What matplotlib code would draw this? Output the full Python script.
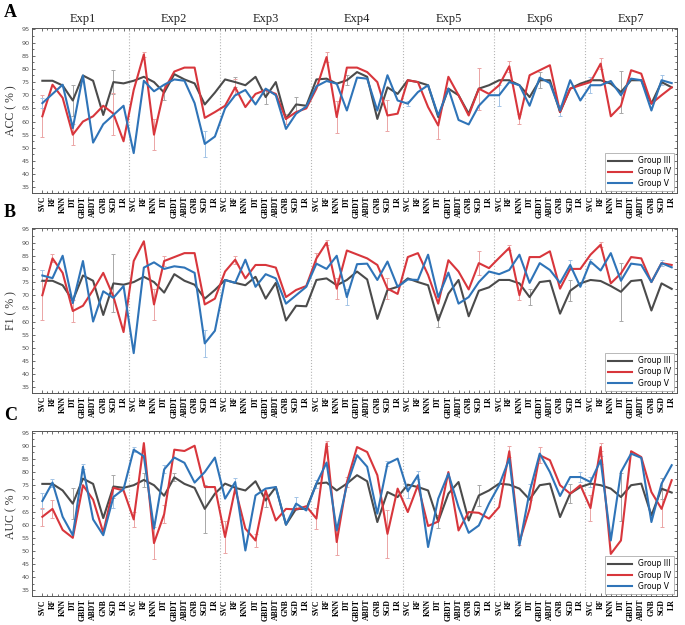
import numpy as np
import matplotlib.pyplot as plt
from matplotlib.ticker import MultipleLocator

classifiers = ["SVC", "RF", "KNN", "DT", "GBDT", "ABDT", "GNB", "SGD", "LR"]
experiments = ["Exp1", "Exp2", "Exp3", "Exp4", "Exp5", "Exp6", "Exp7"]
groups = ["Group III", "Group IV", "Group V"]
colors = ["#4b4b4b", "#d8363c", "#2f74b8"]
err_colors = ["#a8a8a8", "#eba5a5", "#a3c4e6"]

# ACC (%), 9 classifiers x 7 experiments
acc_g3 = [75.5, 75.5, 73.7, 68, 77.5, 75.5, 62.5, 75, 74.5,
          75.5, 77, 75, 71, 78, 76, 74.5, 66.5, 71,
          76, 75, 73.8, 77, 69.3, 75, 61, 66.5, 66,
          76, 76.3, 74.4, 75.7, 78.8, 77, 61, 73, 70.5,
          75.7, 75, 73.8, 61.7, 72.5, 70, 63, 72.5, 73.8,
          75.7, 75.7, 73.8, 69.3, 75.7, 75.7, 63.6, 72.5, 74.4,
          75.7, 75.7, 74.4, 71.2, 75.7, 75.7, 66.8, 75, 73]
acc_g4 = [62, 74, 69, 55, 60, 62, 66, 63, 52.5,
          72, 85.5, 55, 72, 79, 80.5, 80.5, 61.4, 63.6,
          66, 73, 65.5, 70.5, 72, 70.5, 61, 63.6, 65,
          72.5, 84.5, 61.7, 80.5, 80.5, 78.8, 75, 62.3, 63,
          75.7, 75, 65.5, 58.5, 77, 70, 62.3, 72.5, 70.5,
          73.8, 81, 61, 77.6, 79.5, 81.4, 63.6, 72.5, 73.8,
          75, 82, 62, 66, 79.5, 78.2, 66.8, 70, 73]
acc_g5 = [67, 70.5, 74, 57.5, 77.5, 52, 59, 62.5, 66,
          48, 75.5, 71.5, 74, 76, 75.5, 67, 51.5, 54.3,
          65, 70, 72, 66.5, 72.5, 70, 57.2, 63, 65.7,
          73.4, 75.4, 74.4, 64.2, 76.7, 76.3, 64.2, 77.6, 68,
          66.8, 71.2, 73.8, 62.3, 72.5, 60.6, 58.9, 66, 70,
          70, 75, 73.8, 66, 76.7, 74.6, 64.2, 75.7, 68,
          73.8, 73.8, 75.4, 70, 76.3, 75.7, 64.2, 75.7, 74.6]

# F1 (%)
f1_g3 = [75.5, 75.5, 73.8, 68, 77.5, 75.5, 62.5, 74.5, 74,
         75, 77, 75, 71, 78, 75.5, 74, 68.7, 72,
         75.8, 74.7, 73.8, 77, 68.7, 74.7, 60.4, 66, 65.8,
         75.8, 76.4, 73.8, 75.8, 79, 76, 61, 72, 73.2,
         76.4, 75, 73.8, 60.4, 70.6, 75.8, 62, 71.7, 73,
         75.8, 75.8, 74.5, 69.3, 75, 75.5, 63, 71.7, 74.5,
         75.8, 75.4, 73.5, 71.3, 75.4, 75.8, 64.2, 74.5, 72.4]
f1_g4 = [70, 84, 78.5, 64, 66, 72, 78.5, 69.5, 56,
         83, 90.5, 66.5, 83, 84.5, 86, 86, 66.5, 68.7,
         79, 83.5, 76.4, 81.5, 81.5, 80.5, 69.3, 72, 73.5,
         84, 90, 72.5, 87, 85.5, 84, 81.5, 72.5, 70.5,
         84.5, 86, 77.7, 66.8, 83.3, 79, 72.2, 82.2, 80.3,
         84.2, 88, 70, 84.5, 84.5, 86.7, 72.5, 80, 80,
         85.4, 89.2, 74.5, 78.3, 84.5, 84, 75, 82.2, 81.5]
f1_g5 = [77.5, 76.5, 85, 67, 83, 60, 71.5, 69, 73.5,
         48, 80.5, 82.5, 80, 81, 80.5, 78.5, 51.7, 56.5,
         75.8, 74.7, 83.5, 73.2, 78, 76.4, 66.8, 70, 73.2,
         82, 80, 85, 69.3, 81.8, 82, 75.8, 82.8, 73.2,
         76, 75.8, 85.4, 69.3, 78.6, 66.8, 69.3, 75, 79,
         78, 79.6, 85.4, 74.7, 82.2, 79.6, 74.7, 81.5, 73.2,
         82.8, 79.4, 86, 75.5, 82, 81.5, 75, 82.2, 80.6]

# AUC (%)
auc_g3 = [75.5, 75.5, 73, 68, 77.5, 75.5, 62.5, 74.5, 74,
          75, 77, 75, 71, 78, 75.5, 74, 66, 71.8,
          75.6, 74, 73, 76.5, 69.2, 74.3, 60, 66, 66,
          75.6, 76, 73, 75.6, 78.8, 76.5, 61, 72.4, 70.5,
          75.2, 74.3, 73, 61.2, 71.8, 76.2, 61.6, 71.1, 73,
          75.6, 75.2, 73.7, 69.6, 75, 75.6, 62.9, 71.8, 74.3,
          75.6, 75, 73.7, 70.5, 75, 75.6, 63.5, 73.7, 72.2]
auc_g4 = [63, 66, 58, 55, 75, 69.5, 57, 74, 73,
          62, 91, 53, 64, 88.5, 88, 90, 74.3, 74.3,
          55.3, 73.7, 58.5, 54, 73, 61.6, 66, 65.8, 67,
          62.3, 90.8, 53.4, 76.2, 89.5, 87.6, 78.8, 56.5, 73.7,
          64.8, 75, 59.5, 61.2, 80, 57.8, 64.8, 64.5, 62.3,
          66.7, 87.9, 53.4, 66, 86.4, 84.5, 75, 71.8, 75,
          66.3, 89.5, 48.9, 54, 87.9, 85.7, 72.4, 66, 76.9]
auc_g5 = [69, 76, 63, 56, 82, 62, 56, 70.5, 73.5,
          88.5, 86, 58.5, 81, 85.5, 83.5, 76, 80, 85.5,
          69.9, 76.2, 50.2, 71.1, 73.7, 74.3, 60, 68, 65.4,
          75.6, 83.6, 57.8, 75, 86.4, 82, 64.2, 83.2, 85.1,
          72.7, 78.8, 51.5, 69.9, 79.4, 66.7, 56.9, 59.7, 68,
          75, 85.1, 52.1, 72.5, 87, 80, 70.9, 78.1, 78.1,
          76.2, 84.5, 54, 80, 87, 85.4, 61, 75.6, 82.6]

# error bars: (group index, point index, half-width)
acc_err = [(1, 0, 8), (2, 0, 2), (0, 3, 6), (1, 3, 4), (0, 7, 4.5), (1, 7, 8),
           (1, 10, 1), (1, 11, 6), (0, 12, 3), (2, 16, 5), (0, 19, 2), (1, 19, 3),
           (0, 22, 2.5), (1, 24, 2), (0, 25, 3), (1, 28, 2), (1, 29, 6), (0, 30, 2),
           (1, 34, 6), (2, 36, 1), (1, 39, 5), (1, 43, 8), (2, 45, 4), (1, 46, 2),
           (1, 47, 2), (0, 49, 3), (2, 51, 2), (2, 54, 3), (1, 55, 2), (0, 57, 8),
           (2, 61, 2)]
f1_err = [(1, 0, 9.5), (2, 0, 2), (1, 1, 1.5), (1, 3, 4), (0, 7, 11), (1, 11, 6),
          (1, 12, 2), (2, 16, 5), (1, 19, 1.5), (1, 27, 2), (1, 28, 1), (1, 29, 4),
          (2, 30, 3), (1, 34, 4), (0, 39, 2.5), (1, 43, 4.5), (1, 46, 1), (1, 47, 2),
          (0, 48, 3), (2, 52, 2), (0, 52, 4), (2, 54, 1), (1, 55, 1), (0, 57, 11),
          (2, 61, 1)]
auc_err = [(2, 0, 3), (1, 0, 3.5), (1, 1, 3.5), (2, 1, 1.5), (0, 3, 6), (2, 4, 1),
           (0, 7, 4.5), (2, 7, 4), (2, 9, 1), (1, 9, 3), (0, 10, 2.5), (1, 11, 6),
           (1, 12, 3.5), (2, 12, 1.5), (0, 13, 1.5), (0, 16, 9), (1, 18, 6), (2, 19, 1.5),
           (1, 21, 2.5), (0, 22, 2.5), (2, 25, 2.5), (1, 27, 4), (2, 27, 1.5), (1, 28, 1),
           (1, 29, 5), (1, 30, 2), (1, 34, 9), (2, 34, 1), (2, 36, 2.5), (2, 37, 1.5),
           (0, 39, 2.5), (0, 43, 4), (1, 46, 2), (1, 47, 1), (2, 48, 3), (1, 49, 3),
           (0, 52, 3.5), (2, 53, 2), (1, 54, 5), (2, 54, 2), (1, 55, 1.5), (2, 55, 1.5),
           (0, 57, 9), (1, 61, 7), (0, 61, 4)]

panels = [
    ("A", "ACC ( % )", [acc_g3, acc_g4, acc_g5], acc_err),
    ("B", "F1 ( % )", [f1_g3, f1_g4, f1_g5], f1_err),
    ("C", "AUC ( % )", [auc_g3, auc_g4, auc_g5], auc_err),
]

n_cls = len(classifiers)
n_exp = len(experiments)
x = np.arange(n_cls * n_exp)
xlabels = classifiers * n_exp

fig = plt.figure(figsize=(6.85, 6.25), dpi=100)
serif = ["Liberation Serif", "DejaVu Serif"]

# panel boxes in figure fractions: (bottom, top)
boxes = [(0.691, 0.955), (0.371, 0.635), (0.046, 0.310)]

for (letter, ylabel, series, errs), (b, t) in zip(panels, boxes):
    ax = fig.add_axes([0.047, b, 0.941, t - b])

    for k in range(1, n_exp):
        ax.axvline(k * n_cls - 0.5, color="#b5b5b5", linestyle=":", linewidth=0.8, zorder=0)

    for g, i, e in errs:
        ax.errorbar(x[i], series[g][i], yerr=e, fmt="none", ecolor=err_colors[g],
                    elinewidth=0.7, capsize=1.6, capthick=0.7, zorder=1)

    for g, vals in enumerate(series):
        ax.plot(x, vals, color=colors[g], linewidth=1.5, label=groups[g], zorder=2 + g)

    ax.set_xlim(-1, len(x) - 0.95)
    ax.set_ylim(32.8, 95.5)
    ax.yaxis.set_major_locator(MultipleLocator(5))
    ax.yaxis.set_minor_locator(MultipleLocator(2.5))
    ax.set_xticks(x)
    ax.set_xticks(x + 0.5, minor=True)
    ax.set_xticklabels(xlabels, rotation=90, fontsize=5.6, fontweight="bold", family=serif)
    for lab in ax.get_yticklabels():
        lab.set_fontsize(4.6)
        lab.set_color("#555555")
    ax.tick_params(which="both", direction="in", top=True, right=True, width=0.6, color="#555555")
    ax.tick_params(which="major", length=2.2, pad=2)
    ax.tick_params(which="minor", length=1.2)
    for sp in ax.spines.values():
        sp.set_linewidth(0.7)
        sp.set_color("#555555")

    ax.set_ylabel(ylabel, fontsize=8.5, family=serif, color="#333333", labelpad=3)

    leg = ax.legend(loc="lower right", fontsize=5.5, handlelength=3.2, frameon=True,
                    fancybox=False, edgecolor="#999999", borderpad=0.4, labelspacing=0.3,
                    borderaxespad=0.3)
    leg.get_frame().set_linewidth(0.6)

    fig.text(0.006, t + 0.012, letter, fontsize=13, fontweight="bold", family=serif,
             va="bottom", ha="left")

    if letter == "A":
        for k, name in enumerate(experiments):
            ax.text(k * n_cls + (n_cls - 1) / 2, 1.02, name, transform=ax.get_xaxis_transform(),
                    ha="center", va="bottom", fontsize=9, family=serif, color="#222222")

fig.savefig("out.png", dpi=100)
